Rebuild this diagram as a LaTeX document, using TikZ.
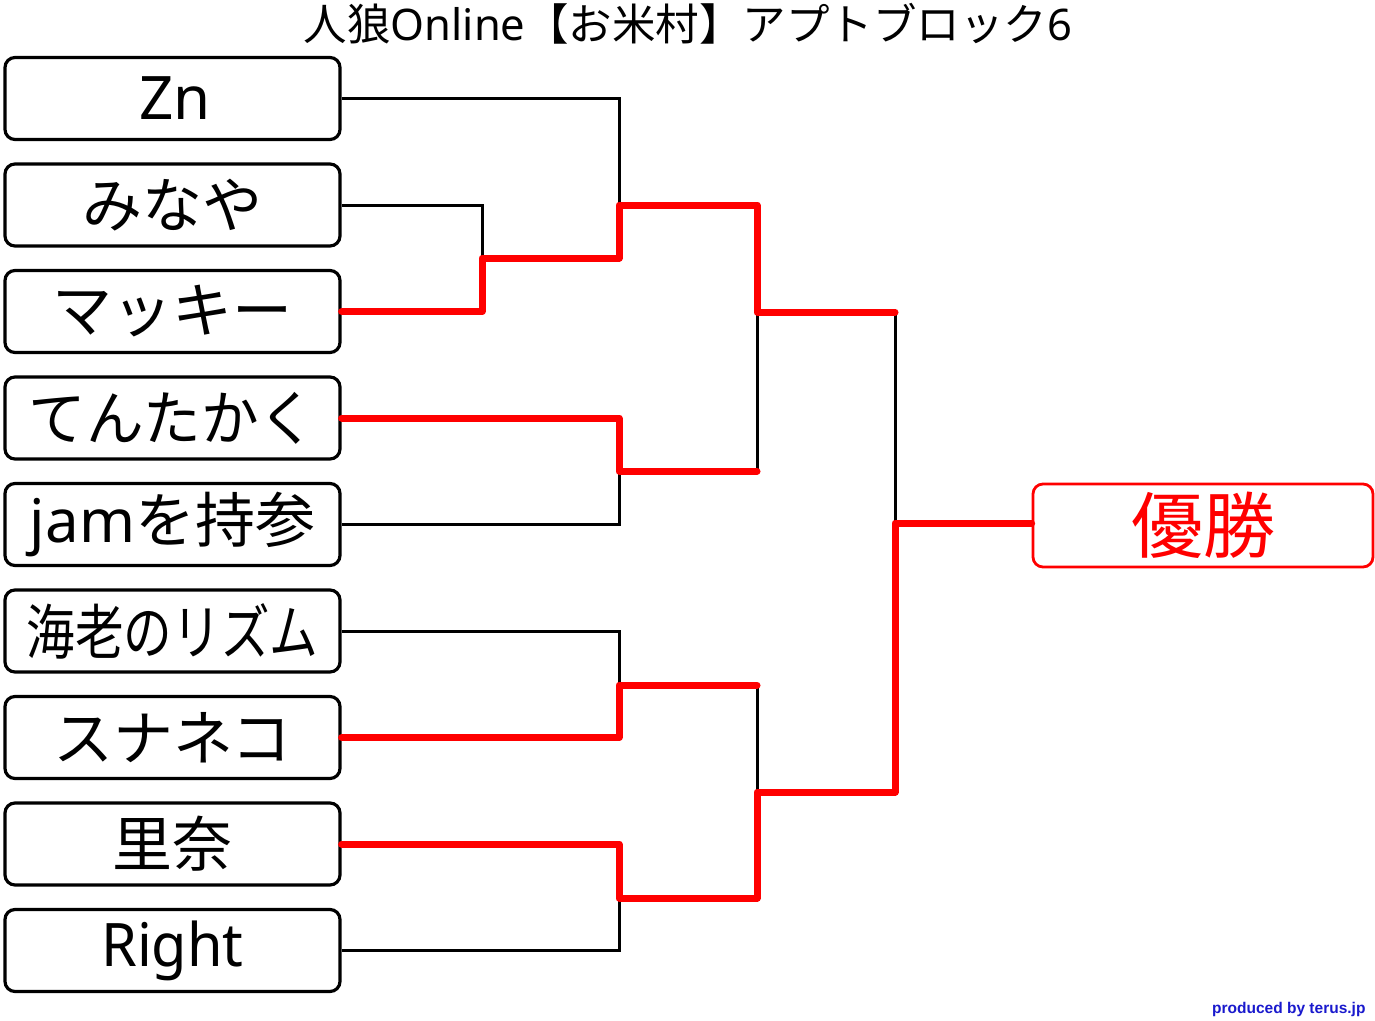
\documentclass[tikz,border=0pt]{standalone}
\usepackage{fontspec}
\setmainfont{Noto Sans CJK JP}
\newfontfamily\latin{Noto Sans}
\newfontfamily\footfont{Liberation Sans}
\definecolor{footblue}{RGB}{25,25,205}
\begin{document}
\begin{tikzpicture}[x=1pt,y=-1pt,
  player/.style={draw=black, line width=3.2pt, rounded corners=10pt, minimum width=335pt, minimum height=82pt, inner sep=0pt, font=\fontsize{60}{60}\selectfont},
  champ/.style={draw=red, line width=2.8pt, rounded corners=10pt, minimum width=340pt, minimum height=83pt, inner sep=0pt, text=red, font=\fontsize{72}{72}\selectfont},
  lose/.style={draw=black, line width=3pt},
  win/.style={draw=red, line width=7pt, line cap=round, line join=round}]
\useasboundingbox (0,0) rectangle (1375,1020);
\fill[white] (0,0) rectangle (1375,1020);
\node[font=\fontsize{43.5}{43.5}\selectfont] (title) at (688,24) {人狼{\latin Online}【お米村】アプトブロック{\latin 6}};
\node[player] (p1) at (172.5,98.5) {\hspace*{5pt}\latin Zn};
\node[player] (p2) at (172.5,205) {みなや};
\node[player] (p3) at (172.5,311.5) {マッキー};
\node[player] (p4) at (172.5,418) {\scalebox{0.96}[1]{てんたかく}};
\node[player] (p5) at (172.5,524.5) {{\latin jam}を持参};
\node[player] (p6) at (172.5,631) {\scalebox{0.81}[1]{海老のリズム}};
\node[player] (p7) at (172.5,737.5) {スナネコ};
\node[player] (p8) at (172.5,844) {里奈};
\node[player] (p9) at (172.5,950.5) {\scalebox{0.96}[1]{\latin Right}};
\node[champ] (w) at (1203,525.5) {優勝};
\node[anchor=east, text=footblue, font=\footfont\bfseries\fontsize{15.5}{15.5}\selectfont] (foot) at (1369,1009) {produced by terus.jp};
\coordinate (a1) at (482,258);
\coordinate (b1) at (619,205);
\coordinate (b2) at (619,471);
\coordinate (b3) at (619,685);
\coordinate (b4) at (619,898);
\coordinate (c1) at (757,312);
\coordinate (c2) at (757,792);
\coordinate (d) at (895,523);
% round 1
\draw[lose] (p2.east) -| (a1);
\draw[lose] (p1.east) -| (b1);
\draw[lose] (p5.east) -| (b2);
\draw[lose] (p6.east) -| (b3);
\draw[lose] (p9.east) -| (b4);
% round 2 losers
\draw[lose] (b2 -| c1) -- (c1);
\draw[lose] (b3 -| c2) -- (c2);
\draw[lose] (c1 -| d) -- (d);
% winners
\draw[win] (p3.east) -| (a1) -| (b1) -| (c1) -- (c1 -| d);
\draw[win] (p4.east) -| (b2) -- (b2 -| c1);
\draw[win] (p7.east) -| (b3) -- (b3 -| c2);
\draw[win] (p8.east) -| (b4) -| (c2) -| (d) -- (d -| w.west);
\end{tikzpicture}
\end{document}
